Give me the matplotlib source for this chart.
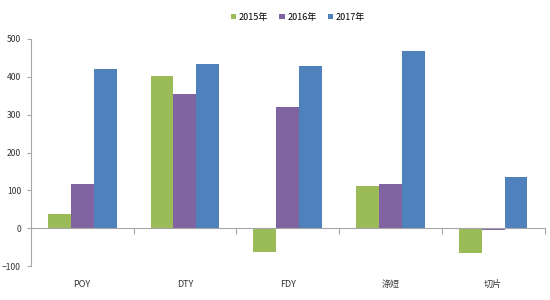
import matplotlib
matplotlib.use("Agg")
import matplotlib.pyplot as plt
import numpy as np

plt.rcParams['font.family'] = ['Noto Sans CJK SC', 'DejaVu Sans']

categories = ['POY', 'DTY', 'FDY', '涤短', '切片']
years = ['2015年', '2016年', '2017年']
v2015 = [37, 403, -63, 112, -65]
v2016 = [116, 355, 320, 117, -5]
v2017 = [420, 433, 428, 468, 135]
colors = ['#9BBB59', '#8064A2', '#4F81BD']

fig = plt.figure(figsize=(5.5, 3), dpi=100)
ax = fig.add_axes([0.056, 0.113, 0.934, 0.757])

x = np.arange(len(categories))
w = 0.223
for i, (vals, lab) in enumerate(zip([v2015, v2016, v2017], years)):
    ax.bar(x + (i - 1) * w, vals, width=w, color=colors[i], label=lab, zorder=2)

ax.set_xlim(-0.5, len(categories) - 0.5)
ax.set_ylim(-100, 500)
ax.set_yticks(range(-100, 501, 100))

for s in ['top', 'right']:
    ax.spines[s].set_visible(False)
ax.spines['bottom'].set_position(('data', 0))
ax.spines['bottom'].set_color('#A6A6A6')
ax.spines['left'].set_color('#A6A6A6')
ax.spines['bottom'].set_zorder(3)

ax.set_xticks(np.arange(len(categories)) + 0.5)
ax.set_xticklabels([])
ax.tick_params(axis='x', length=4, color='#A6A6A6', direction='out')
ax.tick_params(axis='y', length=3, color='#A6A6A6', labelsize=6.2, labelcolor='#333333', pad=4)

for xi, c in zip(x, categories):
    ax.text(xi, -0.06, c, transform=ax.get_xaxis_transform(), ha='center', va='top',
            fontsize=6.5, color='#333333')

ax.legend(loc='lower center', bbox_to_anchor=(0.52, 1.04), ncol=3, frameon=False,
          fontsize=6.5, handlelength=0.6, handleheight=0.6, handletextpad=0.3, columnspacing=1.2)

fig.savefig('out.png', dpi=100)
